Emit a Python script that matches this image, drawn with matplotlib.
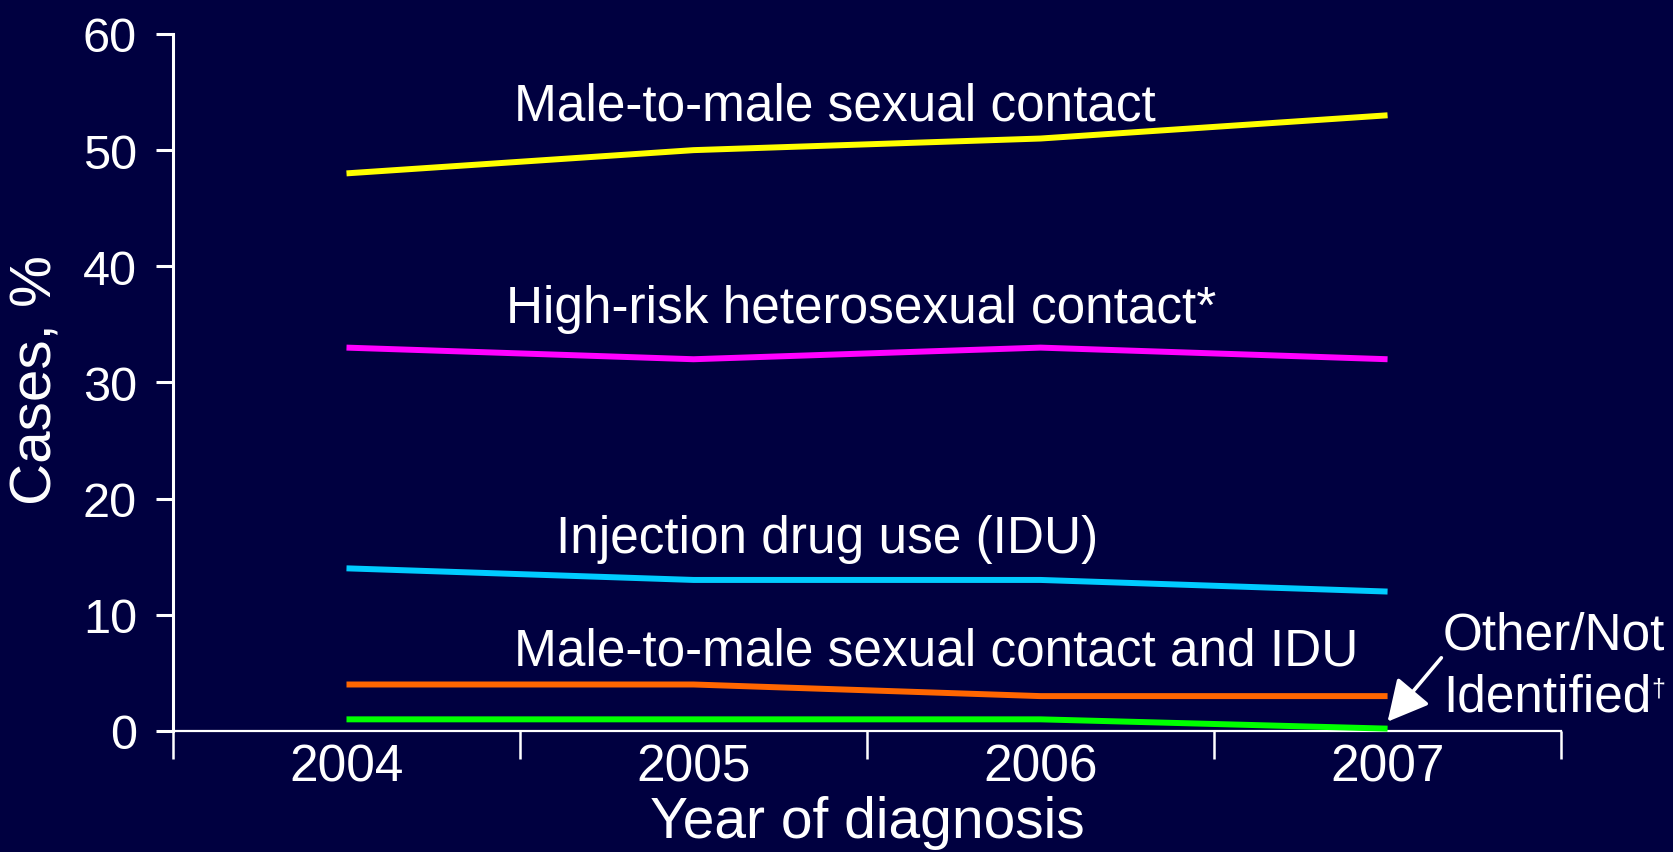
import matplotlib
matplotlib.use("Agg")
import matplotlib.pyplot as plt
from matplotlib.ticker import FixedLocator

# -----------------------------------
# Data (percent of cases by transmission category)
# -----------------------------------
years = ["2004", "2005", "2006", "2007"]
msm = [48, 50, 51, 53]
hetero = [33, 32, 33, 32]
idu = [14, 13, 13, 12]
msm_idu = [4, 4, 3, 3]
other = [1, 1, 1, 0.2]

BG = "#000040"
plt.rcParams["font.family"] = ["Liberation Sans", "DejaVu Sans"]

fig = plt.figure(figsize=(16.73, 8.53), dpi=100, facecolor=BG)
ax = fig.add_axes([0.1034, 0.1419, 0.8297, 0.8171])
ax.set_facecolor(BG)

x = list(range(len(years)))
lw = 4.3
series = [
    (msm, "#FFFF00"),
    (hetero, "#FF00FF"),
    (idu, "#00CCFF"),
    (msm_idu, "#FF6600"),
    (other, "#00FF00"),
]
for vals, col in series:
    ax.plot(x, vals, color=col, lw=lw, solid_capstyle="butt",
            clip_on=False, zorder=3)

ax.set_xlim(-0.5, 3.5)
ax.set_ylim(0, 60)

# spines
for s in ["top", "right"]:
    ax.spines[s].set_visible(False)
ax.spines["left"].set_color("white")
ax.spines["left"].set_linewidth(2.2)
ax.spines["bottom"].set_color("white")
ax.spines["bottom"].set_linewidth(1.6)

# ticks
ax.set_yticks(range(0, 61, 10))
ax.tick_params(axis="y", colors="white", labelsize=35, length=12, width=2.2,
               pad=14)
ax.set_xticks(x)
ax.set_xticklabels(years)
ax.xaxis.set_minor_locator(FixedLocator([-0.5, 0.5, 1.5, 2.5, 3.5]))
ax.tick_params(axis="x", which="major", length=0, colors="white",
               labelsize=37, pad=8)
ax.tick_params(axis="x", which="minor", length=20, width=1.8, color="white")

ax.set_ylabel("Cases, %", color="white", fontsize=42)
ax.yaxis.set_label_coords(-0.079, 0.505)
ax.set_xlabel("Year of diagnosis", color="white", fontsize=41)
ax.xaxis.set_label_coords(0.5, -0.092)

# line labels
fs = 37
ax.text(1.408, 52.6, "Male-to-male sexual contact", color="white",
        fontsize=fs, ha="center", va="baseline")
ax.text(1.483, 35.2, "High-risk heterosexual contact*", color="white",
        fontsize=fs, ha="center", va="baseline")
ax.text(1.385, 15.4, "Injection drug use (IDU)", color="white",
        fontsize=fs, ha="center", va="baseline")
ax.text(1.699, 5.75, "Male-to-male sexual contact and IDU", color="white",
        fontsize=fs, ha="center", va="baseline")
ax.text(3.16, 7.06, "Other/Not", color="white", fontsize=fs,
        ha="left", va="baseline", clip_on=False)
t_ident = ax.text(3.16, 1.72, "Identified", color="white", fontsize=fs,
                  ha="left", va="baseline", clip_on=False)
ax.annotate("\u2020", xy=(1.0, 0.93), xycoords=t_ident, color="white",
            fontsize=18, ha="left", va="top")

# arrow to the Other/Not identified end point
ax.annotate("", xy=(x[-1], other[-1] + 0.6), xytext=(3.155, 6.3),
            arrowprops=dict(arrowstyle="-|>,head_length=1.25,head_width=0.65",
                            mutation_scale=20, lw=2.6, color="white",
                            shrinkA=0, shrinkB=0),
            annotation_clip=False)

fig.savefig("out.png", dpi=100, facecolor=BG)
